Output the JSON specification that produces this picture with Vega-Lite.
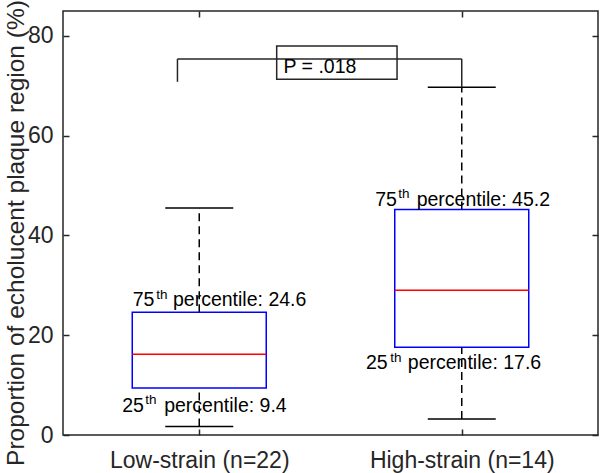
{
  "$schema": "https://vega.github.io/schema/vega-lite/v6.json",
  "width": 535,
  "height": 424,
  "autosize": "none",
  "padding": {"left": 63, "top": 11, "right": 2, "bottom": 38},
  "background": "white",
  "config": {
    "view": {"stroke": "#262626", "strokeWidth": 1.5},
    "font": "Liberation Sans",
    "axis": {
      "grid": false,
      "domain": false,
      "tickSize": -6,
      "tickWidth": 1.5,
      "tickColor": "#262626",
      "labelColor": "#262626",
      "labelFontSize": 23,
      "labelLimit": 400,
      "labelFont": "Liberation Sans",
      "titleFont": "Liberation Sans",
      "titleColor": "#262626"
    }
  },
  "datasets": {
    "boxes": [
      {"group": "Low-strain (n=22)", "pos": 1, "lo": 1.7, "q1": 9.4, "med": 16.2, "q3": 24.6, "hi": 45.5},
      {"group": "High-strain (n=14)", "pos": 2, "lo": 3.2, "q1": 17.6, "med": 29.0, "q3": 45.2, "hi": 69.7}
    ],
    "bracket": [
      {"x": 0.917, "x2": 2.0, "y": 75.4, "y2": 75.4},
      {"x": 0.917, "x2": 0.917, "y": 75.4, "y2": 70.8},
      {"x": 2.0, "x2": 2.0, "y": 75.4, "y2": 69.7}
    ],
    "pbox": [
      {"x": 1.295, "x2": 1.7535, "y": 71.34, "y2": 78.0, "label": "P = .018", "tx": 1.321, "ty": 72.66}
    ],
    "mainText": [
      {"x": 0.7467, "y": 25.86, "text": "75"},
      {"x": 0.9, "y": 25.86, "text": "percentile: 24.6"},
      {"x": 0.7067, "y": 4.66, "text": "25"},
      {"x": 0.8664, "y": 4.66, "text": "percentile: 9.4"},
      {"x": 1.6701, "y": 46.0, "text": "75"},
      {"x": 1.8282, "y": 46.0, "text": "percentile: 45.2"},
      {"x": 1.6353, "y": 13.14, "text": "25"},
      {"x": 1.7946, "y": 13.14, "text": "percentile: 17.6"}
    ],
    "supText": [
      {"x": 0.8364, "y": 27.36, "text": "th"},
      {"x": 0.7946, "y": 6.16, "text": "th"},
      {"x": 1.7579, "y": 47.5, "text": "th"},
      {"x": 1.728, "y": 14.64, "text": "th"}
    ]
  },
  "layer": [
    {
      "data": {"name": "boxes"},
      "mark": {"type": "rule", "color": "#000000", "strokeWidth": 1.5, "strokeDash": [8, 5]},
      "encoding": {
        "x": {
          "field": "pos", "type": "quantitative",
          "scale": {"domain": [0.5, 2.5], "nice": false, "zero": false},
          "axis": {
            "orient": "bottom", "values": [1, 2], "title": null, "labelPadding": 20,
            "labelExpr": "datum.value == 1 ? 'Low-strain (n=22)' : 'High-strain (n=14)'"
          }
        },
        "y": {
          "field": "q3", "type": "quantitative",
          "scale": {"domain": [0, 85], "nice": false, "zero": false},
          "axis": {
            "orient": "left", "values": [0, 20, 40, 60, 80], "labelPadding": 16,
            "title": "Proportion of echolucent plaque region (%)",
            "titleFontSize": 24.5, "titleFontWeight": "normal",
            "titleX": -40, "titleY": 221.5, "titleAngle": -90,
            "titleAlign": "center", "titleBaseline": "alphabetic"
          }
        },
        "y2": {"field": "hi"}
      }
    },
    {
      "data": {"name": "boxes"},
      "mark": {"type": "rule", "color": "#000000", "strokeWidth": 1.5, "strokeDash": [8, 5]},
      "encoding": {
        "x": {
          "field": "pos", "type": "quantitative",
          "axis": {"orient": "top", "values": [1, 2], "labels": false, "title": null}
        },
        "y": {
          "field": "lo", "type": "quantitative",
          "axis": {"orient": "right", "values": [0, 20, 40, 60, 80], "labels": false, "title": null}
        },
        "y2": {"field": "q1"}
      }
    },
    {
      "data": {"name": "boxes"},
      "mark": {"type": "bar", "width": 134, "fill": "#ffffff", "fillOpacity": 0, "stroke": "#0000ff", "strokeWidth": 1.5},
      "encoding": {
        "x": {"field": "pos", "type": "quantitative", "axis": null},
        "y": {"field": "q1", "type": "quantitative", "axis": null},
        "y2": {"field": "q3"}
      }
    },
    {
      "data": {"name": "boxes"},
      "mark": {"type": "tick", "orient": "horizontal", "size": 134, "thickness": 1.5, "color": "#ff0000", "opacity": 1},
      "encoding": {
        "x": {"field": "pos", "type": "quantitative", "axis": null},
        "y": {"field": "med", "type": "quantitative", "axis": null}
      }
    },
    {
      "data": {"name": "boxes"},
      "mark": {"type": "tick", "orient": "horizontal", "size": 68, "thickness": 1.5, "color": "#000000", "opacity": 1},
      "encoding": {
        "x": {"field": "pos", "type": "quantitative", "axis": null},
        "y": {"field": "hi", "type": "quantitative", "axis": null}
      }
    },
    {
      "data": {"name": "boxes"},
      "mark": {"type": "tick", "orient": "horizontal", "size": 68, "thickness": 1.5, "color": "#000000", "opacity": 1},
      "encoding": {
        "x": {"field": "pos", "type": "quantitative", "axis": null},
        "y": {"field": "lo", "type": "quantitative", "axis": null}
      }
    },
    {
      "data": {"name": "bracket"},
      "mark": {"type": "rule", "color": "#262626", "strokeWidth": 1.5},
      "encoding": {
        "x": {"field": "x", "type": "quantitative", "axis": null},
        "x2": {"field": "x2"},
        "y": {"field": "y", "type": "quantitative", "axis": null},
        "y2": {"field": "y2"}
      }
    },
    {
      "data": {"name": "pbox"},
      "mark": {"type": "rect", "fill": "#ffffff", "fillOpacity": 0, "stroke": "#262626", "strokeWidth": 1.5},
      "encoding": {
        "x": {"field": "x", "type": "quantitative", "axis": null},
        "x2": {"field": "x2"},
        "y": {"field": "y", "type": "quantitative", "axis": null},
        "y2": {"field": "y2"}
      }
    },
    {
      "data": {"name": "pbox"},
      "mark": {"type": "text", "align": "left", "baseline": "alphabetic", "fontSize": 19.5, "color": "#000000"},
      "encoding": {
        "x": {"field": "tx", "type": "quantitative", "axis": null},
        "y": {"field": "ty", "type": "quantitative", "axis": null},
        "text": {"field": "label"}
      }
    },
    {
      "data": {"name": "mainText"},
      "mark": {"type": "text", "align": "left", "baseline": "alphabetic", "fontSize": 19.5, "color": "#000000"},
      "encoding": {
        "x": {"field": "x", "type": "quantitative", "axis": null},
        "y": {"field": "y", "type": "quantitative", "axis": null},
        "text": {"field": "text"}
      }
    },
    {
      "data": {"name": "supText"},
      "mark": {"type": "text", "align": "left", "baseline": "alphabetic", "fontSize": 13.5, "color": "#000000"},
      "encoding": {
        "x": {"field": "x", "type": "quantitative", "axis": null},
        "y": {"field": "y", "type": "quantitative", "axis": null},
        "text": {"field": "text"}
      }
    }
  ],
  "resolve": {"axis": {"x": "independent", "y": "independent"}}
}
